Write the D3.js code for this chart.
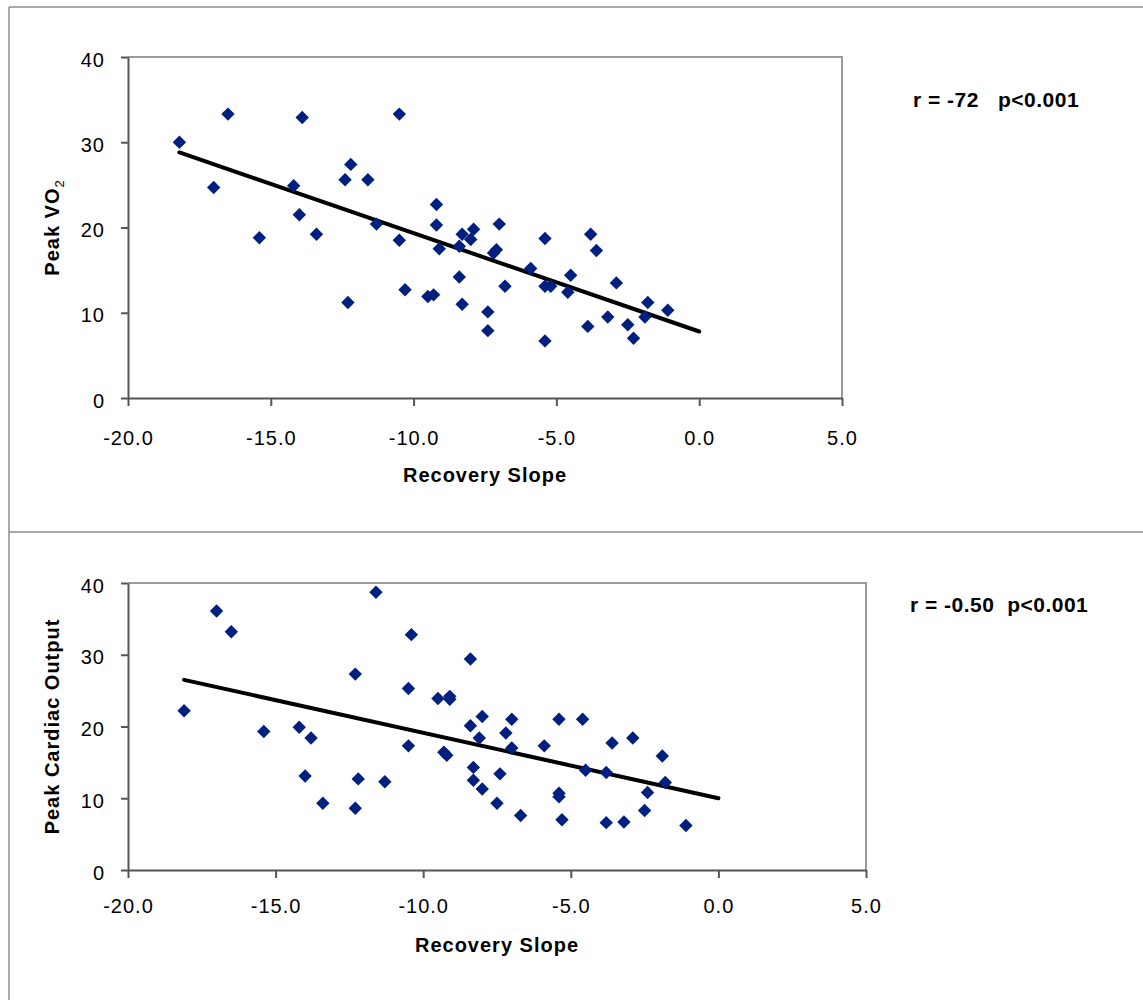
<!DOCTYPE html>
<html>
<head>
<meta charset="utf-8">
<script src="https://cdn.jsdelivr.net/npm/d3@7"></script>
<style>
  body { margin: 0; background: #fff; }
  svg { display: block; font-family: "Liberation Sans", Arial, sans-serif; }
</style>
</head>
<body>
<script>
// values
const xTicks = [-20, -15, -10, -5, 0, 5];
const yTicks = [0, 10, 20, 30, 40];

// recovery slope vs peak VO2
const vo2Points = [
  [-18.2, 30.0], [-16.5, 33.3], [-13.9, 32.9], [-17.0, 24.7], [-14.2, 24.9],
  [-12.2, 27.4], [-12.4, 25.6], [-11.6, 25.6], [-14.0, 21.5], [-13.4, 19.2],
  [-15.4, 18.8], [-11.3, 20.4], [-10.5, 33.3], [-10.5, 18.5], [-12.3, 11.2],
  [-9.2, 22.7], [-9.2, 20.3], [-9.1, 17.5], [-8.3, 19.2], [-7.9, 19.8],
  [-8.0, 18.6], [-8.4, 17.8], [-7.0, 20.4], [-7.1, 17.4], [-7.2, 17.0],
  [-5.4, 18.7], [-3.8, 19.2], [-3.6, 17.3], [-5.9, 15.2], [-4.5, 14.4],
  [-8.4, 14.2], [-6.8, 13.1], [-5.4, 13.1], [-5.2, 13.1], [-4.6, 12.4],
  [-2.9, 13.5], [-1.8, 11.2], [-1.1, 10.3], [-1.9, 9.5], [-3.2, 9.5],
  [-2.5, 8.6], [-3.9, 8.4], [-2.3, 7.0], [-5.4, 6.7], [-7.4, 10.1],
  [-7.4, 7.9], [-8.3, 11.0], [-10.3, 12.7], [-9.5, 11.9], [-9.3, 12.1]
];
const vo2Trend = [[-18.2, 28.8], [0, 7.8]];

// recovery slope vs peak cardiac output
const cardiacPoints = [
  [-18.1, 22.2], [-17.0, 36.1], [-16.5, 33.2], [-15.4, 19.3], [-14.2, 19.9],
  [-13.8, 18.4], [-12.3, 27.3], [-11.6, 38.7], [-14.0, 13.1], [-13.4, 9.3],
  [-12.3, 8.6], [-12.2, 12.7], [-11.3, 12.3], [-10.5, 17.3], [-9.3, 16.4],
  [-9.2, 16.0], [-8.3, 14.3], [-8.3, 12.5], [-8.0, 11.3], [-7.5, 9.3],
  [-10.4, 32.8], [-8.4, 29.4], [-10.5, 25.3], [-9.5, 23.9], [-9.1, 24.2],
  [-9.1, 23.8], [-8.0, 21.4], [-8.4, 20.1], [-8.1, 18.4], [-7.0, 21.0],
  [-7.2, 19.1], [-7.0, 17.0], [-5.4, 21.0], [-4.6, 21.0], [-5.9, 17.3],
  [-3.6, 17.7], [-2.9, 18.4], [-1.9, 15.9], [-7.4, 13.4], [-6.7, 7.6],
  [-4.5, 13.9], [-3.8, 13.6], [-5.4, 10.7], [-5.4, 10.2], [-5.3, 7.0],
  [-3.8, 6.6], [-3.2, 6.7], [-2.5, 8.3], [-2.4, 10.8], [-1.8, 12.2],
  [-1.1, 6.2]
];
const cardiacTrend = [[-18.1, 26.5], [0, 10.0]];

const width = 1143;
const height = 1000;

const svg = d3.select("body").append("svg")
  .attr("width", width)
  .attr("height", height);

svg.append("rect").attr("width", width).attr("height", height).attr("fill", "#fff");

// outer frame of the figure
const frame = svg.append("g").attr("stroke", "#8c8c8c").attr("stroke-width", 1.5);
frame.append("line").attr("x1", 9).attr("y1", 7).attr("x2", 9).attr("y2", height);
frame.append("line").attr("x1", 9).attr("y1", 7).attr("x2", width).attr("y2", 7);
frame.append("line").attr("x1", 9).attr("y1", 532).attr("x2", width).attr("y2", 532);

function drawPanel(p) {
  const x = d3.scaleLinear().domain([-20, 5]).range([p.left, p.right]);
  const y = d3.scaleLinear().domain([0, 40]).range([p.bottom, p.top]);

  const g = svg.append("g");

  // top and right border of the plot area
  g.append("path")
    .attr("d", `M${p.left},${p.top}H${p.right}V${p.bottom}`)
    .attr("fill", "none")
    .attr("stroke", "#9a9a9a")
    .attr("stroke-width", 2);

  const yAxis = g.append("g")
    .attr("transform", `translate(${p.left},0)`)
    .call(d3.axisLeft(y).tickValues(yTicks).tickSize(7).tickSizeOuter(0)
      .tickPadding(16).tickFormat(d => d));

  const xAxis = g.append("g")
    .attr("transform", `translate(0,${p.bottom})`)
    .call(d3.axisBottom(x).tickValues(xTicks).tickSize(8).tickSizeOuter(0)
      .tickPadding(p.xPad).tickFormat(d => d.toFixed(1)));

  [yAxis, xAxis].forEach(a => {
    a.select(".domain").attr("stroke", "#555").attr("stroke-width", 2);
    a.selectAll(".tick line").attr("stroke", "#555").attr("stroke-width", 2);
    a.selectAll(".tick text")
      .attr("fill", "#000")
      .attr("font-size", 20)
      .attr("letter-spacing", 1)
      .attr("font-family", "'Liberation Sans', Arial, sans-serif");
  });
  yAxis.selectAll(".tick text").attr("dy", "0.45em");

  // trend line
  g.append("path")
    .datum(p.trend)
    .attr("d", d3.line().x(d => x(d[0])).y(d => y(d[1])))
    .attr("fill", "none")
    .attr("stroke", "#000")
    .attr("stroke-width", 4)
    .attr("stroke-linecap", "round");

  // diamond markers
  const diamond = d3.symbol(d3.symbolSquare, 90);
  g.selectAll(".pt")
    .data(p.points)
    .join("path")
    .attr("class", "pt")
    .attr("d", diamond)
    .attr("transform", d => `translate(${x(d[0])},${y(d[1])}) rotate(45)`)
    .attr("fill", "#002080");

  // x title
  g.append("text")
    .attr("x", (p.left + p.right) / 2)
    .attr("y", p.bottom + p.xTitleOffset)
    .attr("text-anchor", "middle")
    .attr("font-size", 20)
    .attr("font-weight", "bold")
    .attr("letter-spacing", 1)
    .text("Recovery Slope");

  // y title
  const yt = g.append("text")
    .attr("transform", `translate(59,${(p.top + p.bottom) / 2}) rotate(-90)`)
    .attr("text-anchor", "middle")
    .attr("font-size", 20)
    .attr("font-weight", "bold")
    .attr("letter-spacing", 1);
  yt.append("tspan").text(p.yTitle);
  if (p.ySub) {
    yt.append("tspan").attr("font-size", 13).attr("font-weight", "normal")
      .attr("dy", 5).text(p.ySub);
  }

  // correlation note
  g.append("text")
    .attr("x", p.noteX)
    .attr("y", p.noteY)
    .attr("font-size", 21)
    .attr("font-weight", "bold")
    .attr("letter-spacing", 0.5)
    .style("white-space", "pre")
    .text(p.note);
}

drawPanel({
  left: 128, right: 842, top: 57, bottom: 398,
  xPad: 25, xTitleOffset: 84,
  points: vo2Points, trend: vo2Trend,
  yTitle: "Peak VO", ySub: "2",
  note: "r = -72   p<0.001", noteX: 913, noteY: 107
});

drawPanel({
  left: 128, right: 866, top: 583, bottom: 870,
  xPad: 21, xTitleOffset: 82,
  points: cardiacPoints, trend: cardiacTrend,
  yTitle: "Peak Cardiac Output", ySub: null,
  note: "r = -0.50  p<0.001", noteX: 910, noteY: 612
});
</script>
</body>
</html>
